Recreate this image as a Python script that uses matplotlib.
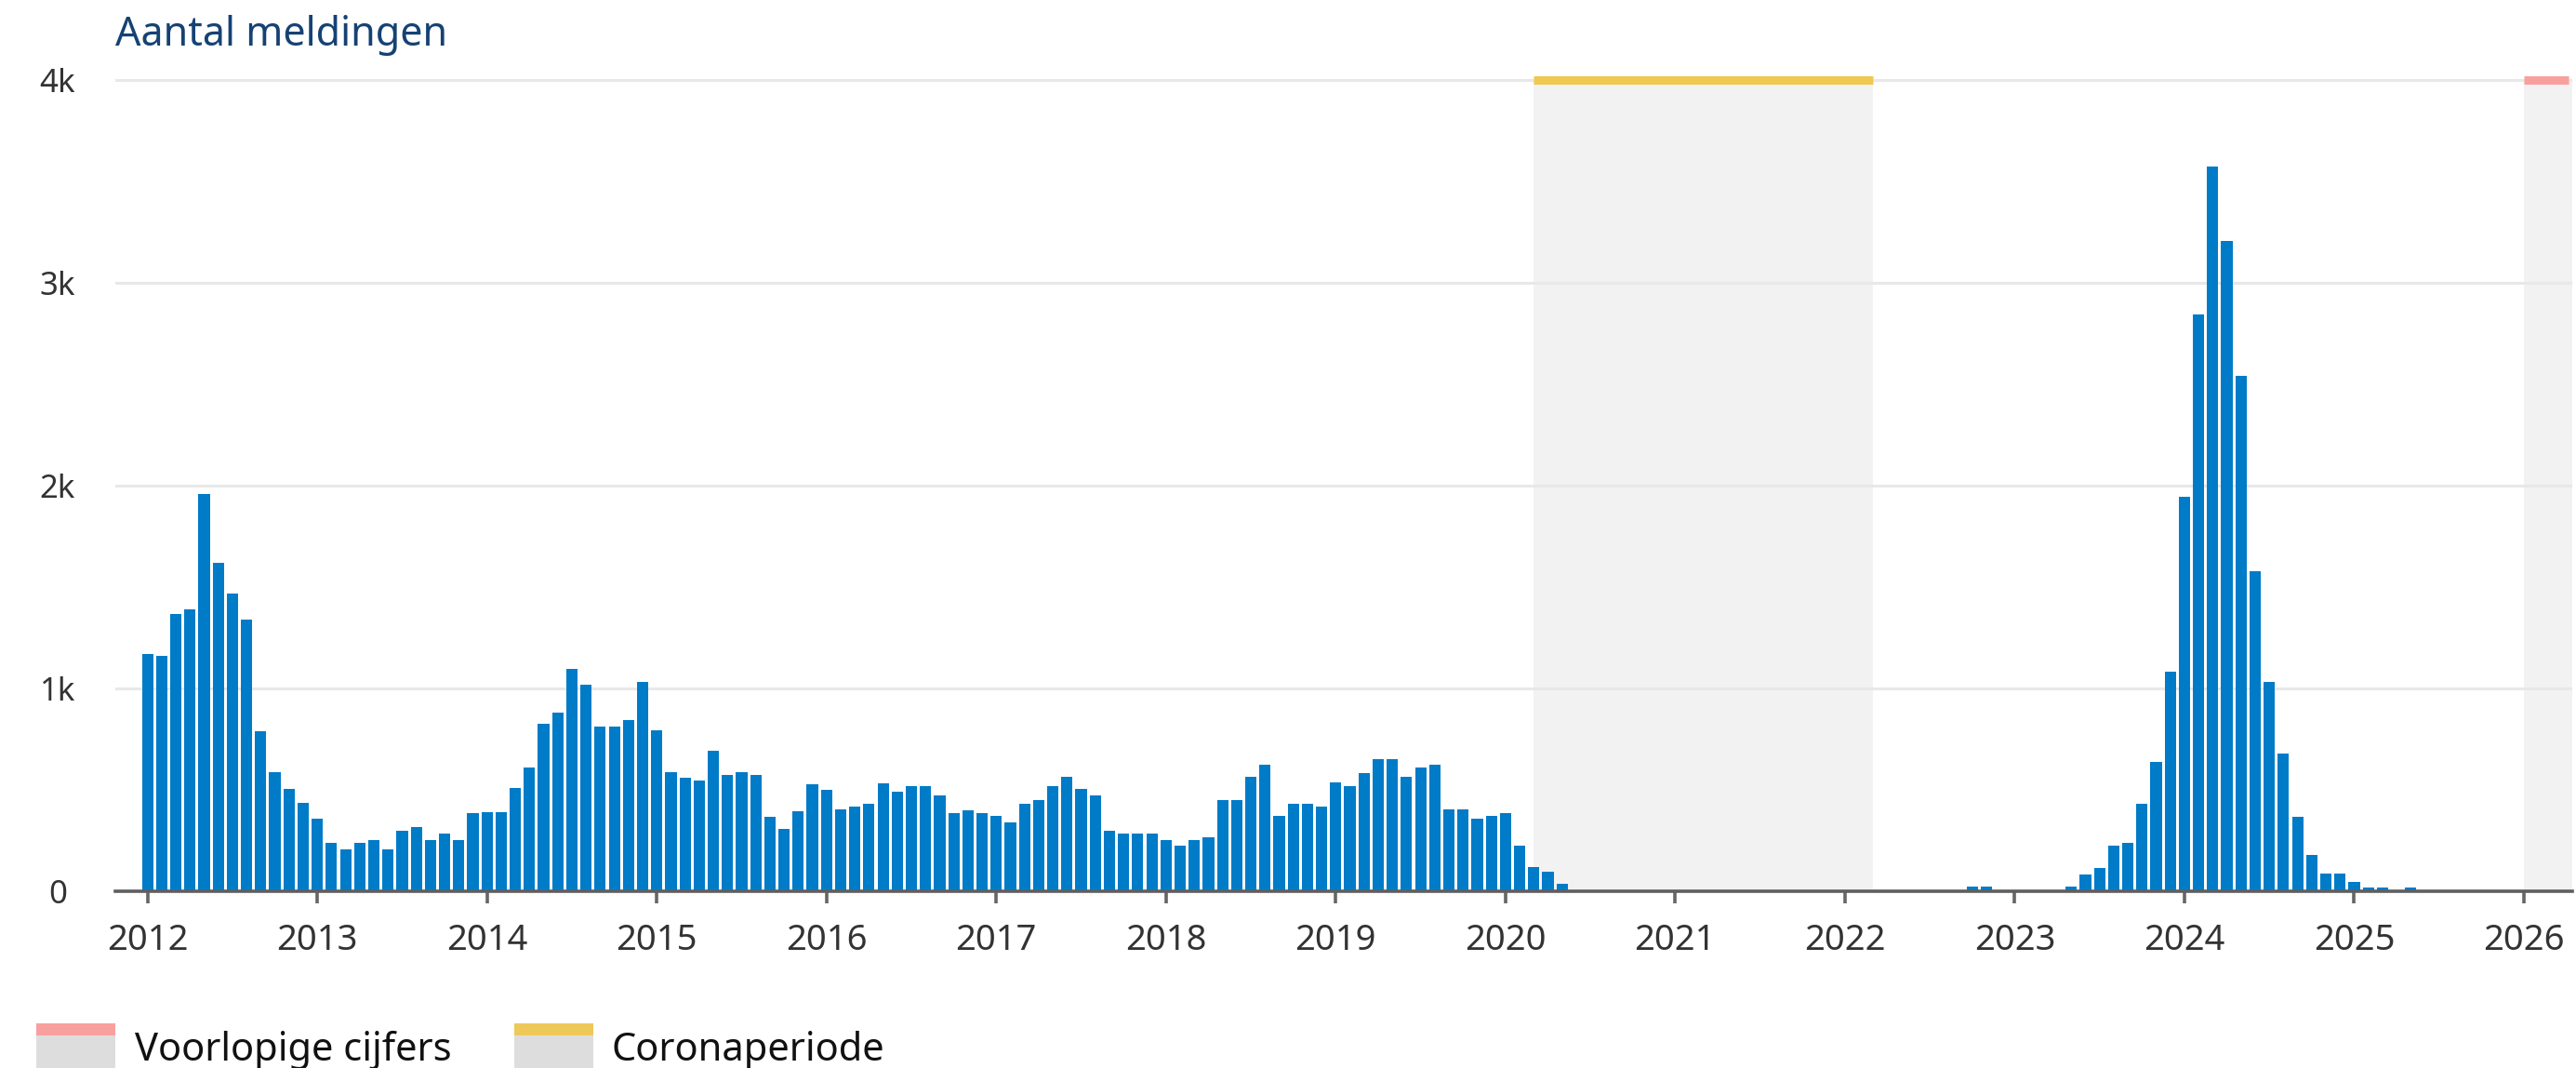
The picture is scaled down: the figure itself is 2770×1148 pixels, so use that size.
import numpy as np
import matplotlib.pyplot as plt
from matplotlib.patches import Rectangle

plt.rcParams['font.family'] = ['Noto Sans', 'DejaVu Sans']

# Monthly counts (Jan..Dec)
meldingen_2012 = [1170, 1160, 1365, 1390, 1960, 1620, 1470, 1340, 790, 585, 505, 435]
meldingen_2013 = [360, 240, 207, 240, 253, 205, 300, 317, 253, 285, 253, 386]
meldingen_2014 = [392, 392, 511, 611, 826, 882, 1095, 1020, 812, 812, 842, 1034]
meldingen_2015 = [795, 588, 560, 546, 694, 574, 588, 574, 365, 306, 395, 528]
meldingen_2016 = [498, 405, 417, 431, 534, 489, 518, 518, 474, 385, 401, 385]
meldingen_2017 = [372, 341, 431, 451, 518, 564, 503, 474, 298, 283, 283, 283]
meldingen_2018 = [252, 225, 252, 266, 451, 451, 564, 622, 372, 431, 431, 417]
meldingen_2019 = [535, 518, 584, 653, 653, 564, 610, 622, 402, 402, 358, 372]
meldingen_2020 = [385, 225, 119, 95, 36, 0, 0, 0, 0, 0, 0, 0]
meldingen_2021 = [0, 0, 0, 0, 0, 0, 0, 0, 0, 0, 0, 0]
meldingen_2022 = [0, 0, 0, 0, 0, 0, 0, 0, 0, 25, 25, 0]
meldingen_2023 = [0, 0, 0, 0, 25, 83, 113, 225, 240, 433, 636, 1083]
meldingen_2024 = [1945, 2843, 3574, 3205, 2541, 1576, 1033, 681, 369, 181, 87, 87]
meldingen_2025 = [47, 20, 20, 0, 20, 0, 0, 0, 0, 0, 0, 0]

years = list(range(2012, 2026))
corona_period = (2020 + 2 / 12, 2022 + 2 / 12)
voorlopig_period = (2026, 2026.285)
x_ticks = list(range(2012, 2027))
y_ticks = [0, 1000, 2000, 3000, 4000]
y_labels = ["0", "1k", "2k", "3k", "4k"]

counts = (meldingen_2012 + meldingen_2013 + meldingen_2014 + meldingen_2015
          + meldingen_2016 + meldingen_2017 + meldingen_2018 + meldingen_2019
          + meldingen_2020 + meldingen_2021 + meldingen_2022 + meldingen_2023
          + meldingen_2024 + meldingen_2025)
x = np.array([y + m / 12 for y in years for m in range(12)])

W, H = 2770, 1148


def fx(px):
    return px / W


def fy(py):
    return 1 - py / H


fig = plt.figure(figsize=(W / 100, H / 100), dpi=100)
ax = fig.add_axes([fx(124), fy(958), fx(2766) - fx(124), fy(71) - fy(958)])

blue = "#007BC7"
ax.bar(x, counts, width=0.8 / 12, color=blue, zorder=3)

# shaded periods with coloured strip on top
ax.axvspan(*corona_period, ymin=0, ymax=4000 / 4069, color="#f2f2f2", zorder=0.2, lw=0)
ax.axvspan(*voorlopig_period, ymin=0, ymax=4000 / 4069, color="#f2f2f2", zorder=0.2, lw=0)
ax.hlines(4000, *corona_period, color="#f0c850", linewidth=6.5, zorder=4, clip_on=False)
ax.hlines(4000, voorlopig_period[0], voorlopig_period[1] - 0.02, color="#f7a09e",
          linewidth=6.5, zorder=4, clip_on=False)

ax.set_xlim(2011.81, 2026.285)
ax.set_ylim(0, 4069)

ax.set_yticks(y_ticks)
ax.set_yticklabels(y_labels)
ax.set_xticks(x_ticks)
ax.set_xticklabels([str(t) for t in x_ticks])

ax.yaxis.grid(True, color="#e8e8e8", linewidth=2.2)
ax.set_axisbelow(True)
for s in ["top", "right", "left"]:
    ax.spines[s].set_visible(False)
ax.spines["bottom"].set_color("#5f5f5f")
ax.spines["bottom"].set_linewidth(2.6)
ax.spines["bottom"].set_zorder(5)

ax.tick_params(axis="x", direction="out", length=9.5, width=2.6, color="#666666",
               labelsize=27.5, labelcolor="#333333", pad=15)
ax.tick_params(axis="y", length=0, labelsize=25, labelcolor="#333333", pad=44.6)
for lab in ax.get_yticklabels():
    lab.set_horizontalalignment("center")

fig.text(fx(124), fy(49.5), "Aantal meldingen", fontsize=31, color="#154273",
         ha="left", va="baseline")

# legend
legend_items = [("Voorlopige cijfers", "#f7a09e", 39, 145),
                ("Coronaperiode", "#efc85a", 553, 657)]
for label, strip, x0, tx in legend_items:
    fig.add_artist(Rectangle((fx(x0), fy(1148)), fx(85), fy(1100) - fy(1148),
                             transform=fig.transFigure, color="#dddddd", lw=0))
    fig.add_artist(Rectangle((fx(x0), fy(1113)), fx(85), fy(1100) - fy(1113),
                             transform=fig.transFigure, color=strip, lw=0))
    fig.text(fx(tx), fy(1139.5), label, fontsize=30, color="#111111",
             ha="left", va="baseline")

fig.savefig("out.png", dpi=100)
